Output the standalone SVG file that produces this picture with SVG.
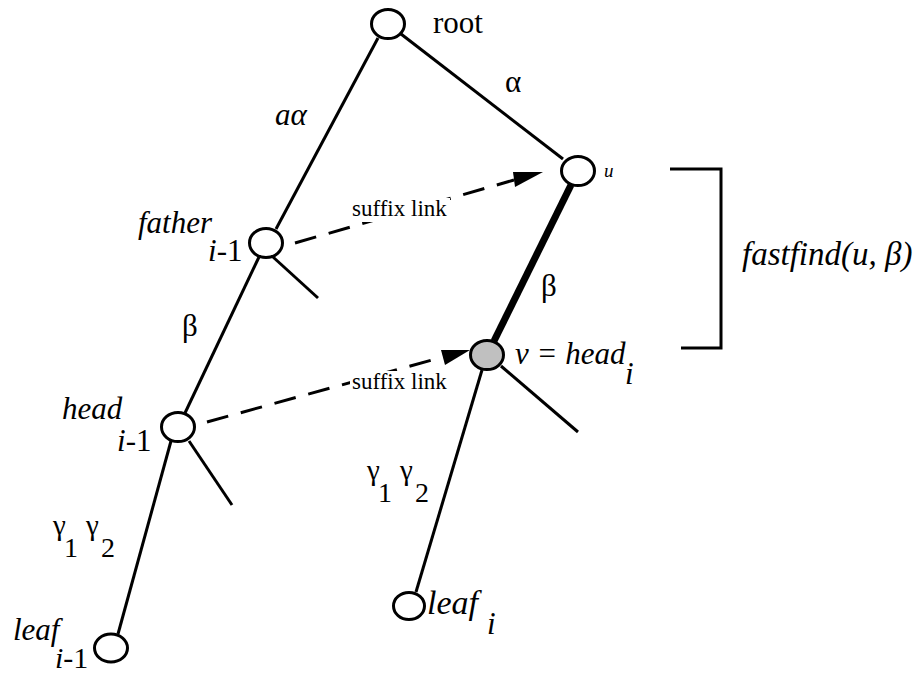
<svg xmlns="http://www.w3.org/2000/svg" width="918" height="677" viewBox="0 0 918 677">
<style>
.n{fill:#fff;stroke:#000;stroke-width:3}
.e{stroke:#000;stroke-width:3;fill:none;stroke-linecap:butt}
.d{stroke:#000;stroke-width:3;fill:none;stroke-dasharray:22 13}
text{font-family:"Liberation Serif","Times New Roman","DejaVu Serif",serif;font-size:31px;fill:#000}
.i{font-style:italic}
.s{font-size:23px}
.g{font-size:29px}
.k{font-size:28px}
</style>
<rect width="918" height="677" fill="#fff"/>
<g id="connectors">
<line class="e" x1="378" y1="38" x2="276" y2="229"/>
<line class="e" x1="401" y1="34" x2="563" y2="159"/>
<line class="e" x1="571" y1="185" x2="494" y2="341" style="stroke-width:7"/>
<line class="e" x1="259" y1="257" x2="185" y2="413"/>
<line class="e" x1="273" y1="257" x2="318" y2="298"/>
<line class="e" x1="501" y1="366" x2="578" y2="432"/>
<line class="e" x1="482" y1="370" x2="416" y2="592"/>
<line class="e" x1="189" y1="441" x2="232" y2="505"/>
<line class="e" x1="171" y1="441" x2="118" y2="634"/>
<line class="d" x1="295" y1="243" x2="514" y2="180"/>
<polygon points="513,172 543,172 515,187" fill="#000"/>
<line class="d" x1="207" y1="422" x2="443" y2="357"/>
<polygon points="441,350 470,350 445,365" fill="#000"/>
<polyline class="e" points="670,169 721,169 721,348 681,348"/>
</g>
<g id="root"><ellipse class="n" cx="388" cy="24" rx="16.5" ry="14.5"/><text x="433" y="33">root</text></g>
<g id="u"><ellipse class="n" cx="578" cy="171" rx="16.5" ry="14.5"/><text class="i" x="604" y="177" style="font-size:19px">u</text></g>
<g id="father"><ellipse class="n" cx="266" cy="243" rx="16.5" ry="14.5"/><text class="i" x="138" y="233">father</text><text x="208" y="261"><tspan class="i">i</tspan>-1</text></g>
<g id="v"><ellipse class="n" cx="487" cy="355" rx="16.5" ry="14.5" style="fill:#c0c0c0"/><text class="i" x="515" y="364">v = head</text><text class="i" x="625" y="384">i</text></g>
<g id="head"><ellipse class="n" cx="178" cy="427" rx="16.5" ry="14.5"/><text class="i" x="62" y="419">head</text><text x="117" y="451"><tspan class="i">i</tspan>-1</text></g>
<g id="leaf_i"><ellipse class="n" cx="409" cy="606" rx="15.5" ry="13.5"/><text class="i" x="427" y="614" style="font-size:34px">leaf</text><text class="i" x="487" y="634">i</text></g>
<g id="leaf_i-1"><ellipse class="n" cx="111" cy="648" rx="16.5" ry="14"/><text class="i" x="13" y="640">leaf</text><text x="55" y="668" style="font-size:30px"><tspan class="i">i</tspan>-1</text></g>
<g id="labels">
<text x="505" y="92">α</text>
<text class="i" x="275" y="125">aα</text>
<rect x="350" y="198" width="100" height="24" fill="#fff"/>
<text class="s" x="352" y="216">suffix link</text>
<rect x="350" y="371" width="100" height="24" fill="#fff"/>
<text class="s" x="352" y="389">suffix link</text>
<text x="182" y="336">β</text>
<text x="541" y="296">β</text>
<text class="i" x="742" y="265" style="font-size:33px">fastfind(u, β)</text>
<text class="g" x="367" y="480">γ</text><text class="k" x="378" y="502">1</text><text class="g" x="400" y="480">γ</text><text class="k" x="415" y="502">2</text>
<text class="g" x="53" y="535">γ</text><text class="k" x="64" y="557">1</text><text class="g" x="86" y="535">γ</text><text class="k" x="101" y="557">2</text>
</g>
</svg>
